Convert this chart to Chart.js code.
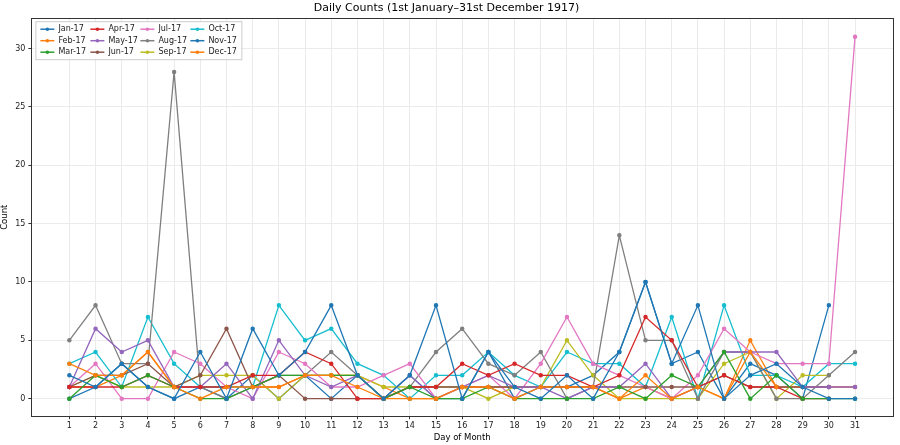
<!DOCTYPE html>
<html><head><meta charset="utf-8">
<script src="https://cdn.jsdelivr.net/npm/chart.js@4"></script>
<style>html,body{margin:0;background:#fff}#w{width:900px;height:445px}</style>
</head><body><div id="w"><canvas id="c"></canvas></div>
<script>
const days = Array.from({length:31},(_,i)=>i+1);
const months = ['Jan-17','Feb-17','Mar-17','Apr-17','May-17','Jun-17','Jul-17','Aug-17','Sep-17','Oct-17','Nov-17','Dec-17'];
const colors = ['#1f77b4','#ff7f0e','#2ca02c','#d62728','#9467bd','#8c564b','#e377c2','#7f7f7f','#bcbd22','#17becf','#1f77b4','#ff7f0e'];
const jan = [2,1,3,1,0,4,0,6,2,4,8,2,0,2,8,0,4,1,0,2,0,4,10,3,8,0,2,3,1,0,0];
const feb = [3,2,2,4,1,0,1,1,1,2,2,1,0,0,0,1,1,0,1,1,1,0,2,0,1,0,4,1];
const mar = [0,2,1,2,1,0,0,1,2,2,2,2,0,1,0,0,1,0,0,0,0,1,0,2,1,4,0,2,0,0,0];
const apr = [1,1,1,2,1,1,1,2,2,4,3,0,0,1,1,3,2,3,2,2,1,2,7,5,1,2,1,1,0,0];
const may = [1,6,4,5,1,1,3,0,5,2,1,2,0,2,0,1,2,1,1,0,1,1,3,0,1,4,4,4,1,1,1];
const jun = [1,2,2,3,1,2,6,1,2,0,0,0,0,1,1,1,1,1,1,1,1,1,1,1,1,2,1,1,1,1];
const jul = [1,3,0,0,4,3,1,0,4,3,1,1,2,3,0,1,2,0,3,7,3,2,1,0,2,6,4,3,3,3,31];
const aug = [5,8,3,3,28,1,0,1,2,2,4,2,0,1,4,6,3,2,4,0,1,14,5,5,0,4,4,0,0,2,4];
const sep = [1,2,1,1,1,2,2,2,0,2,2,2,1,1,1,1,0,1,1,5,2,0,0,0,0,3,4,0,2,2];
const oct = [3,4,1,7,3,1,1,1,8,5,6,3,2,0,2,2,4,2,1,4,3,3,1,7,0,8,2,2,1,3,3];
const nov = [0,1,3,1,0,1,0,2,0,2,0,2,0,2,0,0,4,0,1,1,2,4,10,3,4,0,3,2,0,8];
const dec = [1,1,2,4,1,1,1,1,1,2,2,2,1,0,0,1,1,1,1,1,1,0,1,0,1,0,5,1,1,1,1];
const series = [jan,feb,mar,apr,may,jun,jul,aug,sep,oct,nov,dec];

const datasets = series.map((s,i)=>({
  label: months[i],
  data: s.map((v,j)=>({x:days[j], y:v})),
  borderColor: colors[i], backgroundColor: colors[i],
  borderWidth: 1.3, pointRadius: 1.6, pointHoverRadius: 1.6, tension: 0
}));

const legendPlugin = {
  id:'lg',
  afterDraw(chart){
    const ctx = chart.ctx, a = chart.chartArea;
    ctx.save();
    ctx.strokeStyle='#333'; ctx.lineWidth=1;
    ctx.strokeRect(Math.round(a.left)+0.5,Math.round(a.top)+0.5,Math.round(a.right-a.left),Math.round(a.bottom-a.top));
    const x0 = a.left+4, y0 = a.top+3, colW = 50, rowH = 11.5;
    ctx.fillStyle='rgba(255,255,255,0.85)'; ctx.strokeStyle='#ccc';
    ctx.fillRect(x0,y0,206,38); ctx.strokeRect(x0+0.5,y0+0.5,206,38);
    ctx.font='8px "DejaVu Sans"'; ctx.textBaseline='middle';
    months.forEach((m,i)=>{
      const c = Math.floor(i/3), r = i%3;
      const x = x0+5+c*colW, y = y0+8+r*rowH;
      ctx.strokeStyle=colors[i]; ctx.lineWidth=1.5;
      ctx.beginPath(); ctx.moveTo(x,y); ctx.lineTo(x+14,y); ctx.stroke();
      ctx.fillStyle=colors[i]; ctx.beginPath(); ctx.arc(x+7,y,1.8,0,Math.PI*2); ctx.fill();
      ctx.fillStyle='#222'; ctx.fillText(m,x+18,y);
    });
    ctx.restore();
  }
};

new Chart(document.getElementById('c'),{
  type:'line',
  data:{datasets},
  plugins:[legendPlugin],
  options:{
    responsive:true, maintainAspectRatio:false, animation:false,
    layout:{padding:{left:0,right:7,top:0,bottom:0}},
    plugins:{
      legend:{display:false}, tooltip:{enabled:false},
      title:{display:true,text:'Daily Counts (1st January–31st December 1917)',color:'#000',
        font:{family:'DejaVu Sans',size:11,weight:'normal'},padding:{top:2,bottom:3}}
    },
    scales:{
      x:{type:'linear',min:-0.45,max:32.45,
        afterBuildTicks(ax){ax.ticks = days.map(d=>({value:d}));},
        ticks:{autoSkip:false,maxRotation:0,color:'#222',font:{family:'DejaVu Sans',size:8},padding:2},
        grid:{color:'#ebebeb',drawTicks:true,tickLength:3,tickColor:'#333'},
        border:{color:'#333'},
        title:{display:true,text:'Day of Month',color:'#000',font:{family:'DejaVu Sans',size:8.5},padding:{top:0,bottom:2}}
      },
      y:{min:-1.5,max:32.6,
        afterBuildTicks(ax){ax.ticks=[0,5,10,15,20,25,30].map(v=>({value:v}));},
        ticks:{color:'#222',font:{family:'DejaVu Sans',size:8},padding:3},
        grid:{color:'#ebebeb',tickLength:3,tickColor:'#333'},
        border:{color:'#333'},
        title:{display:true,text:'Count',color:'#000',font:{family:'DejaVu Sans',size:8.5},padding:{top:0,bottom:2}}
      }
    }
  }
});
</script></body></html>
